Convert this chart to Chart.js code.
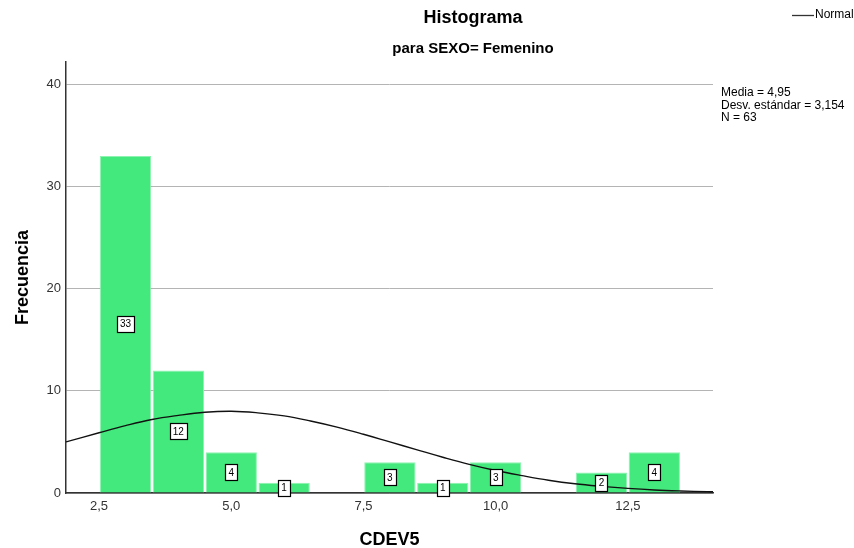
<!DOCTYPE html>
<html>
<head>
<meta charset="utf-8">
<title>Histograma CDEV5</title>
<script src="https://cdn.jsdelivr.net/npm/chart.js@4/dist/chart.umd.min.js"></script>
<style>
  html, body { margin: 0; padding: 0; background: #fff; }
  #wrap { width: 854px; height: 548px; position: relative; }
</style>
</head>
<body>
<div id="wrap"><canvas id="histChart"></canvas></div>
<script>
// histogram bins (centre of each bin, width 1)
const binCenters = [3, 4, 5, 6, 7, 8, 9, 10, 11, 12, 13];
const binCounts  = [33, 12, 4, 1, 0, 3, 1, 3, 0, 2, 4];

// normal curve
const normX = [1.875, 2.5, 3, 3.5, 4, 4.5, 5, 5.5, 6, 6.5, 7, 7.5, 8, 8.5, 9, 9.5, 10, 10.5, 11, 11.5, 12, 12.5, 13, 13.5, 14, 14.11];
const normY = [5.0, 5.9, 6.6, 7.2, 7.6, 7.9, 8.0, 7.85, 7.55, 7.05, 6.45, 5.75, 5.0, 4.25, 3.5, 2.8, 2.2, 1.7, 1.25, 0.9, 0.65, 0.45, 0.3, 0.2, 0.13, 0.12];

const xTicks = [2.5, 5.0, 7.5, 10.0, 12.5];
const yTicks = [0, 10, 20, 30, 40];

const statsLines = ["Media = 4,95", "Desv. estándar = 3,154", "N = 63"];

const FONT = "'Liberation Sans', Arial, sans-serif";
const barGreen = "#43E97D";

function fmtComma(v) {
  return Number(v).toFixed(1).replace(".", ",");
}

// labels in white boxes at half the bar height
const barLabels = {
  id: "barLabels",
  afterDraw(chart) {
    const ctx = chart.ctx;
    const meta = chart.getDatasetMeta(0);
    ctx.save();
    ctx.font = "10px " + FONT;
    ctx.textAlign = "center";
    ctx.textBaseline = "middle";
    meta.data.forEach((bar, i) => {
      const v = binCounts[i];
      if (!v) return;
      const mid = (bar.y + bar.base) / 2;
      const w = Math.round(ctx.measureText(String(v)).width + 6);
      const h = 16;
      const bx = Math.round(bar.x - w / 2) + 0.5;
      const by = Math.round(mid - h / 2) + 0.5;
      ctx.fillStyle = "#fff";
      ctx.fillRect(bx, by, w, h);
      ctx.strokeStyle = "#000";
      ctx.lineWidth = 1.2;
      ctx.strokeRect(bx, by, w, h);
      ctx.fillStyle = "#000";
      ctx.fillText(String(v), bar.x, mid + 0.5);
    });
    ctx.restore();
  }
};

// titles, legend and stats box like the SPSS output
const decorations = {
  id: "decorations",
  afterDraw(chart) {
    const ctx = chart.ctx;
    ctx.save();
    ctx.fillStyle = "#000";
    ctx.textAlign = "center";
    ctx.textBaseline = "middle";
    ctx.font = "bold 18px " + FONT;
    ctx.fillText("Histograma", 473, 18);
    ctx.font = "bold 15px " + FONT;
    ctx.fillText("para SEXO= Femenino", 473, 49);

    // legend
    ctx.strokeStyle = "#333";
    ctx.lineWidth = 1.3;
    ctx.beginPath();
    ctx.moveTo(792, 15.5);
    ctx.lineTo(814, 15.5);
    ctx.stroke();
    ctx.font = "12px " + FONT;
    ctx.textAlign = "left";
    ctx.fillText("Normal", 815, 15);

    // stats
    statsLines.forEach((t, i) => {
      ctx.fillText(t, 721, 92.5 + i * 12.8);
    });
    ctx.restore();
  }
};

const canvas = document.getElementById("histChart");

new Chart(canvas, {
  type: "bar",
  data: {
    datasets: [
      {
        type: "bar",
        label: "Frecuencia",
        data: binCenters.map((x, i) => ({ x, y: binCounts[i] })),
        backgroundColor: barGreen,
        borderColor: "#8ef2b0",
        borderWidth: 1,
        barPercentage: 0.97,
        categoryPercentage: 1,
        order: 2
      },
      {
        type: "line",
        label: "Normal",
        data: normX.map((x, i) => ({ x, y: normY[i] })),
        borderColor: "#111",
        borderWidth: 1.4,
        pointRadius: 0,
        tension: 0.4,
        fill: false,
        order: 1
      }
    ]
  },
  options: {
    responsive: true,
    maintainAspectRatio: false,
    animation: false,
    layout: {
      padding: { top: 62, right: 141, left: 0, bottom: 0 }
    },
    plugins: {
      legend: { display: false },
      title: { display: false },
      tooltip: { enabled: false }
    },
    scales: {
      x: {
        type: "linear",
        min: 1.875,
        max: 14.11,
        offset: false,
        grid: { display: false, offset: false, drawTicks: false },
        border: { display: true, color: "#333", width: 1.5 },
        afterBuildTicks(axis) {
          axis.ticks = xTicks.map(v => ({ value: v }));
        },
        afterFit(axis) {
          axis.height = 55;
        },
        ticks: {
          font: { family: FONT, size: 13 },
          color: "#333",
          padding: 6,
          maxRotation: 0,
          callback: v => fmtComma(v)
        },
        title: {
          display: true,
          text: "CDEV5",
          font: { family: FONT, size: 18, weight: "bold", lineHeight: 0.9 },
          color: "#000",
          padding: { top: 15, bottom: 0 }
        }
      },
      y: {
        min: 0,
        max: 42.2,
        grid: { color: "#b4b4b4", lineWidth: 1, drawTicks: false },
        border: { display: true, color: "#333", width: 1.5 },
        afterBuildTicks(axis) {
          axis.ticks = yTicks.map(v => ({ value: v }));
        },
        afterFit(axis) {
          axis.width = 66;
        },
        ticks: {
          font: { family: FONT, size: 13 },
          color: "#333",
          padding: 5
        },
        title: {
          display: true,
          text: "Frecuencia",
          font: { family: FONT, size: 18, weight: "bold" },
          color: "#000",
          padding: { top: 12, bottom: 0 }
        }
      }
    }
  },
  plugins: [barLabels, decorations]
});
</script>
</body>
</html>
